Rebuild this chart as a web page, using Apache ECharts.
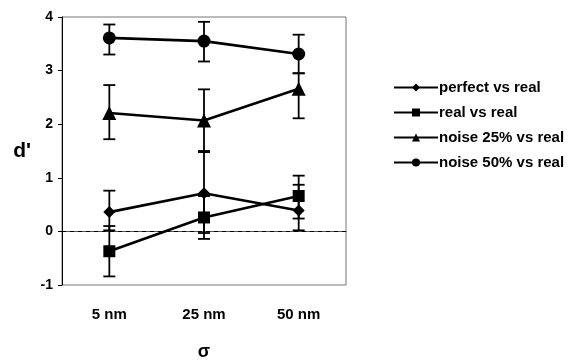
<!DOCTYPE html>
<html>
<head>
<meta charset="utf-8">
<script src="https://cdn.jsdelivr.net/npm/echarts@6/dist/echarts.min.js"></script>
<style>
  html, body { margin: 0; padding: 0; background: #fff; }
  #chart { width: 587px; height: 360px; }
</style>
</head>
<body>
<div id="chart"></div>
<script>
// data
let categories = ['5 nm', '25 nm', '50 nm'];
let seriesNames = ['perfect vs real', 'real vs real', 'noise 25% vs real', 'noise 50% vs real'];
let symbols = ['diamond', 'rect', 'triangle', 'circle'];

let perfect = [0.36, 0.71, 0.39];
let perfectLow = [0.02, -0.03, 0.02];
let perfectHigh = [0.76, 1.48, 0.87];

let realReal = [-0.37, 0.26, 0.66];
let realLow = [-0.84, -0.14, 0.24];
let realHigh = [0.10, 0.66, 1.04];

let noise25 = [2.21, 2.07, 2.66];
let noise25Low = [1.72, 1.50, 2.11];
let noise25High = [2.73, 2.65, 2.95];

let noise50 = [3.61, 3.55, 3.31];
let noise50Low = [3.30, 3.17, 2.95];
let noise50High = [3.86, 3.91, 3.67];

let allValues = [perfect, realReal, noise25, noise50];
let allLow = [perfectLow, realLow, noise25Low, noise50Low];
let allHigh = [perfectHigh, realHigh, noise25High, noise50High];

let myChart = echarts.init(document.getElementById('chart'));

function errorBars(lows, highs) {
    let d = [];
    for (let i = 0; i < lows.length; i++) {
        d.push([i, lows[i], highs[i]]);
    }
    return d;
}

// 误差棒: 竖线加上下两条横帽
function renderError(params, api) {
    let x = api.value(0);
    let lo = api.coord([x, api.value(1)]);
    let hi = api.coord([x, api.value(2)]);
    let half = 6;
    let style = { stroke: '#000', lineWidth: 1.8 };
    return {
        type: 'group',
        children: [
            { type: 'line', shape: { x1: lo[0], y1: lo[1], x2: hi[0], y2: hi[1] }, style: style },
            { type: 'line', shape: { x1: lo[0] - half, y1: lo[1], x2: lo[0] + half, y2: lo[1] }, style: style },
            { type: 'line', shape: { x1: hi[0] - half, y1: hi[1], x2: hi[0] + half, y2: hi[1] }, style: style }
        ]
    };
}

let series = [];
let symbolSizes = [12, 12, 14, 13];
for (let i = 0; i < seriesNames.length; i++) {
    series.push({
        name: 'err' + i,
        type: 'custom',
        renderItem: renderError,
        data: errorBars(allLow[i], allHigh[i]),
        itemStyle: { color: '#000' },
        z: 1,
        silent: true
    });
}
for (let i = 0; i < seriesNames.length; i++) {
    let s = {
        name: seriesNames[i],
        type: 'line',
        data: allValues[i],
        symbol: symbols[i],
        symbolSize: symbolSizes[i],
        lineStyle: { color: '#000', width: 2.6 },
        itemStyle: { color: '#000' },
        z: 3
    };
    if (i === 0) {
        s.markLine = {
            silent: true,
            symbol: 'none',
            label: { show: false },
            lineStyle: { color: '#000', type: [4, 4], width: 1 },
            data: [{ yAxis: 0 }]
        };
    }
    series.push(s);
}

let option = {
    animation: false,
    backgroundColor: '#fff',
    color: ['#000'],
    textStyle: { fontFamily: 'Liberation Sans, Arial, sans-serif' },
    grid: { left: 62, right: 241, top: 17, bottom: 75, outerBoundsMode: 'none', containLabel: false },
    legend: {
        data: seriesNames,
        orient: 'vertical',
        left: 388,
        top: 75,
        itemWidth: 44,
        itemHeight: 10,
        itemGap: 10,
        textStyle: { color: '#000', fontSize: 15, fontWeight: 'bold', fontFamily: 'Liberation Sans, Arial, sans-serif', padding: [0, 0, 0, -4] }
    },
    xAxis: {
        type: 'category',
        data: categories,
        name: 'σ',
        nameLocation: 'middle',
        nameGap: 58,
        nameTextStyle: { color: '#000', fontSize: 18, fontWeight: 'bold' },
        axisLine: { show: true, lineStyle: { color: '#555', width: 1 } },
        axisTick: { show: false },
        axisLabel: { color: '#000', fontSize: 15, fontWeight: 'bold', margin: 22 }
    },
    yAxis: {
        type: 'value',
        min: -1,
        max: 4,
        interval: 1,
        name: "d'",
        nameLocation: 'middle',
        nameRotate: 0,
        nameGap: 31,
        nameTextStyle: { color: '#000', fontSize: 21, fontWeight: 'bold', padding: [8, 0, 0, 0] },
        splitLine: { show: false },
        axisLine: { show: true, lineStyle: { color: '#000', width: 1 } },
        axisTick: { show: true, length: 4, lineStyle: { color: '#000' } },
        axisLabel: { color: '#000', fontSize: 14, fontWeight: 'bold', margin: 9 }
    },
    graphic: [{
        type: 'rect',
        shape: { x: 62, y: 17, width: 284, height: 268 },
        style: { fill: 'none', stroke: '#777', lineWidth: 1 },
        silent: true,
        z: 0
    }],
    series: series
};

myChart.setOption(option);
</script>
</body>
</html>
